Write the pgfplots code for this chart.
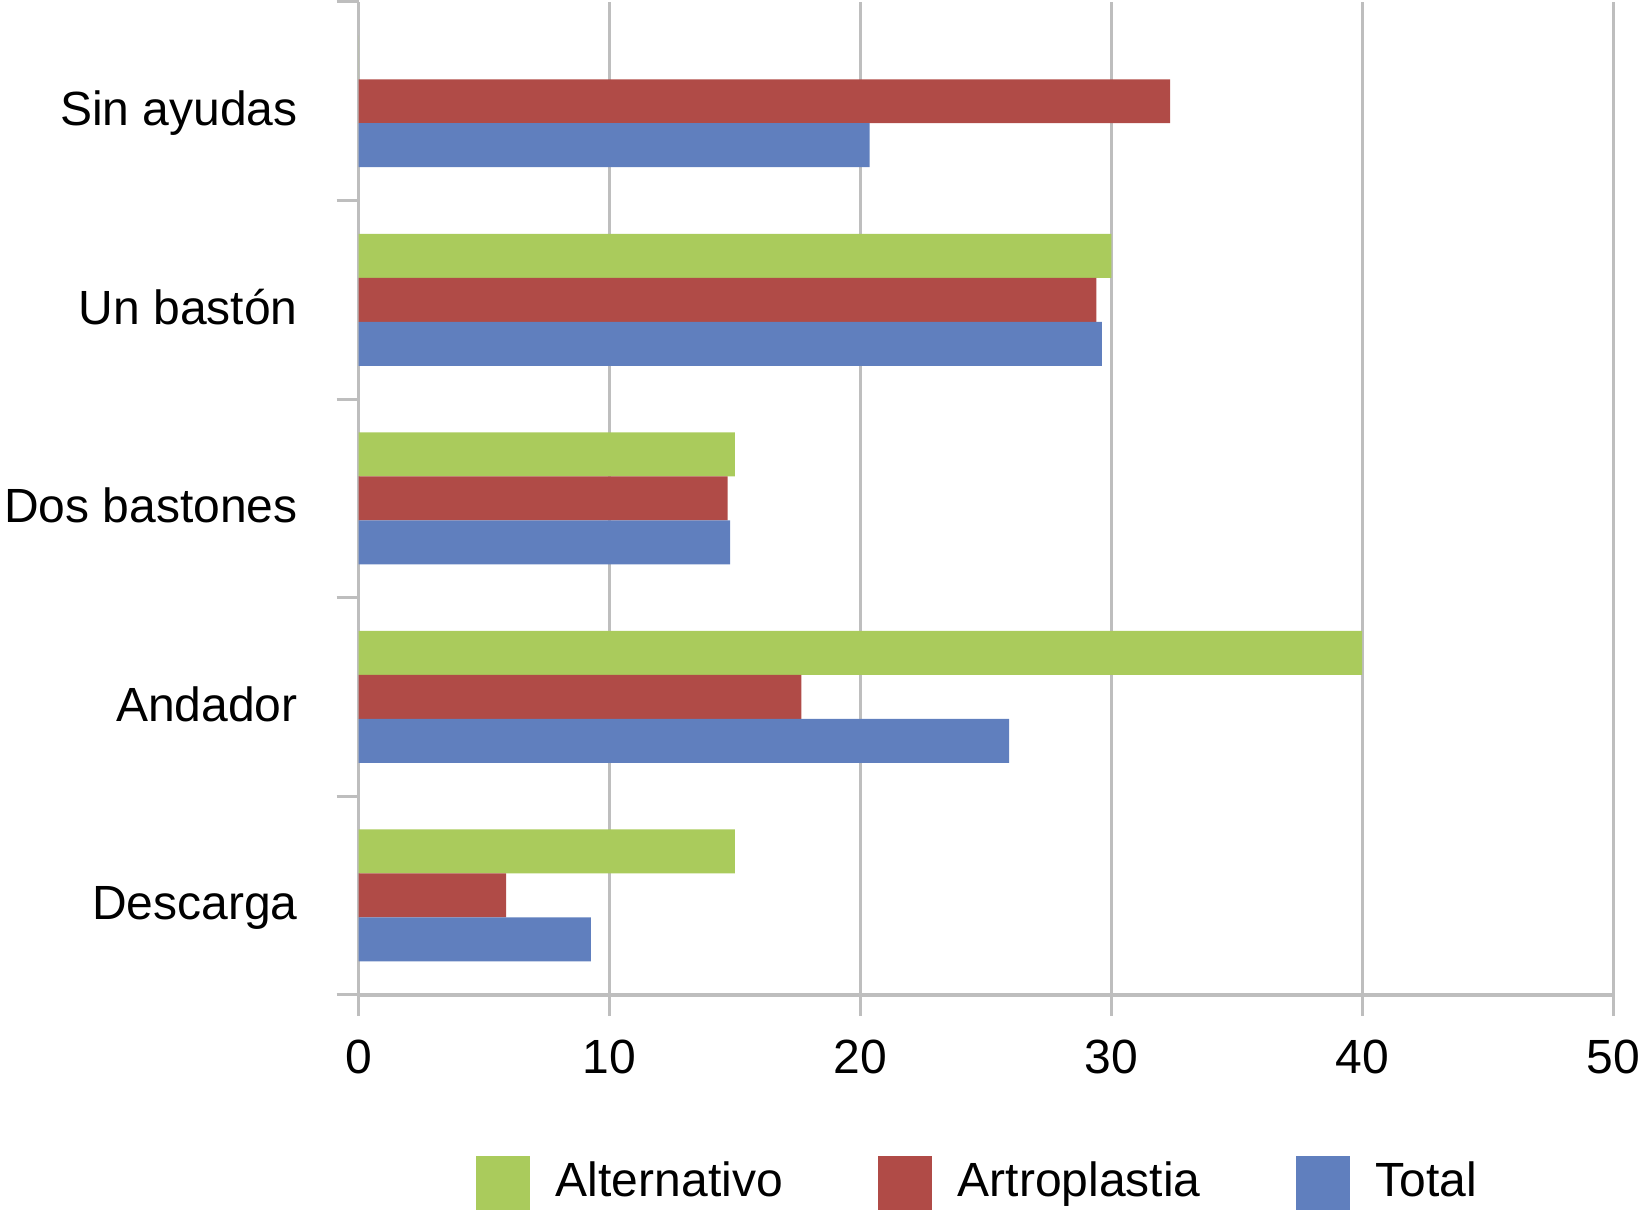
\documentclass[border=0pt]{standalone}
\usepackage{pgfplots}
\pgfplotsset{compat=1.18}
\usepackage{fontspec}
\setmainfont{Liberation Sans}
\definecolor{cgreen}{RGB}{170,203,92}
\definecolor{cred}{RGB}{176,75,71}
\definecolor{cblue}{RGB}{96,127,190}
\definecolor{cgrid}{RGB}{190,190,190}
\pgfplotsset{sqlegend/.style={legend image code/.code={\path[##1,draw=none] (0pt,-8.1pt) rectangle (16.2pt,8.1pt);}}}
\begin{document}
\fontsize{14.4pt}{17pt}\selectfont
\begin{tikzpicture}
\useasboundingbox (0,0) rectangle (492pt,363.3pt);
\begin{axis}[
  at={(107.6pt,64.9pt)}, anchor=south west,
  scale only axis, width=376.3pt, height=297.8pt,
  xbar, bar width=0.2215,
  xmin=0, xmax=50, ymin=-0.5, ymax=4.5,
  xtick={0,10,20,30,40,50},
  ytick={0,1,2,3,4},
  yticklabels={Descarga,Andador,Dos bastones,Un bastón,Sin ayudas},
  minor ytick={-0.5,0.5,1.5,2.5,3.5,4.5},
  axis x line=bottom, axis y line=left,
  axis line style={-, draw=cgrid},
  x axis line style={line width=1.2pt},
  y axis line style={line width=0.9pt},
  xmajorgrids, major grid style={draw=cgrid, line width=0.9pt},
  tick align=outside,
  major tick length=6.3pt, minor tick length=6.6pt,
  x tick style={draw=cgrid, line width=0.9pt},
  major y tick style={draw=none},
  minor y tick style={draw=cgrid, line width=0.9pt},
  /pgf/number format/assume math mode=true,
  tick label style={font=\fontsize{14.4pt}{17pt}\selectfont, text=black},
  xticklabel style={inner sep=0pt, yshift=-7.15pt},
  yticklabel style={inner sep=0pt, anchor=east, text height=10.3pt, text depth=0pt, xshift=-11.8pt, yshift=-2.2pt},
  legend columns=3,
  legend style={at={(rel axis cs:0.0935,-0.1897)}, anchor=west, draw=none, fill=none,
    inner sep=0pt, outer sep=0pt, font=\fontsize{14.4pt}{17pt}\selectfont,
    nodes={inner sep=0pt},
    /tikz/every odd column/.append style={column sep=7.8pt},
    /tikz/every even column/.append style={column sep=28.5pt}},
]
\addplot[fill=cgreen, draw=none, bar shift=0.2215, sqlegend] coordinates {(0,4) (30,3) (15,2) (40,1) (15,0)};
\addplot[fill=cred, draw=none, bar shift=0, sqlegend] coordinates {(32.35,4) (29.41,3) (14.71,2) (17.65,1) (5.88,0)};
\addplot[fill=cblue, draw=none, bar shift=-0.2215, sqlegend] coordinates {(20.37,4) (29.63,3) (14.81,2) (25.93,1) (9.26,0)};
\legend{Alternativo,Artroplastia,Total}
\end{axis}
\end{tikzpicture}
\end{document}
